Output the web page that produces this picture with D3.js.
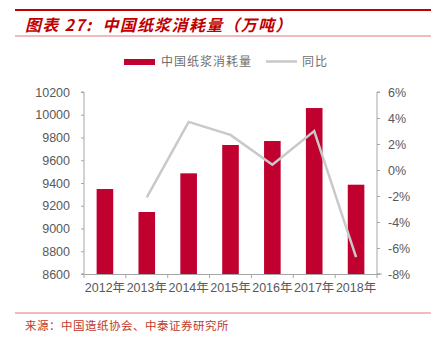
<!DOCTYPE html>
<html><head><meta charset="utf-8">
<script src="https://cdnjs.cloudflare.com/ajax/libs/d3/7.8.5/d3.min.js"></script>
<style>
body{margin:0;background:#fff;}
svg{display:block;font-family:"Liberation Sans",Arial,"Noto Sans CJK SC",sans-serif;}
</style></head><body>
<svg id="c" width="433" height="347"></svg>
<script>
const years = ["2012年","2013年","2014年","2015年","2016年","2017年","2018年"];
const consumption = [9347, 9145, 9485, 9734, 9769, 10059, 9385];
const yoy = [null, -2.1, 3.7, 2.7, 0.4, 3.0, -6.7];
const leftTicks = [8600, 8800, 9000, 9200, 9400, 9600, 9800, 10000, 10200];
const rightTicks = [-8, -6, -4, -2, 0, 2, 4, 6];
const titleText = "图表 27:  中国纸浆消耗量（万吨）";
const sourceText = "来源：中国造纸协会、中泰证券研究所";
const legendNames = ["中国纸浆消耗量", "同比"];

const svg = d3.select("#c");
const barColor = "#c0002f", lineColor = "#c9c9c9", axisColor = "#a6a6a6", textColor = "#595959";
const L = 84, R = 377, T = 92, B = 274;

// header
svg.append("rect").attr("x",15).attr("y",9).attr("width",416).attr("height",2).attr("fill","#c00000");
svg.append("text").attr("x",25).attr("y",31).text(titleText)
  .attr("fill","#c00000").attr("font-size",16).attr("font-weight","bold").attr("font-style","italic")
  .attr("letter-spacing",1.3).attr("xml:space","preserve").style("white-space","pre")
  .attr("font-family","'Noto Sans CJK SC',sans-serif");
svg.append("rect").attr("x",15).attr("y",35.5).attr("width",416).attr("height",1).attr("fill","#e07a7a");

// legend
svg.append("rect").attr("x",124).attr("y",59).attr("width",31).attr("height",6).attr("fill",barColor);
svg.append("text").attr("x",161).attr("y",66).text(legendNames[0]).attr("fill","#6e6e6e")
  .attr("font-size",12).attr("letter-spacing",1).attr("font-family","'Noto Sans CJK SC',sans-serif");
svg.append("line").attr("x1",266).attr("x2",297).attr("y1",61.5).attr("y2",61.5).attr("stroke",lineColor).attr("stroke-width",2.5);
svg.append("text").attr("x",302).attr("y",66).text(legendNames[1]).attr("fill","#6e6e6e")
  .attr("font-size",12).attr("letter-spacing",1).attr("font-family","'Noto Sans CJK SC',sans-serif");

const xb = d3.scaleBand().domain(years).range([L,R]);
const y = d3.scaleLinear().domain([8600,10200]).range([B,T]);
const y2 = d3.scaleLinear().domain([-8,6]).range([B,T]);

// bars
svg.append("g").selectAll("rect").data(consumption).join("rect")
  .attr("x",(d,i)=>xb(years[i])+xb.bandwidth()/2-8.3)
  .attr("width",16.6)
  .attr("y",d=>y(d)).attr("height",d=>B-y(d)).attr("fill",barColor);

// line
const pts = yoy.map((v,i)=>({x:xb(years[i])+xb.bandwidth()/2, v})).filter(p=>p.v!==null);
svg.append("path").datum(pts)
  .attr("d",d3.line().x(p=>p.x).y(p=>y2(p.v)))
  .attr("fill","none").attr("stroke",lineColor).attr("stroke-width",2.5);

// left axis
const gl = svg.append("g").attr("transform",`translate(${L},0)`)
  .call(d3.axisLeft(y).tickValues(leftTicks).tickSize(3).tickPadding(11).tickFormat(d3.format("d")));
// right axis
const gr = svg.append("g").attr("transform",`translate(${R},0)`)
  .call(d3.axisRight(y2).tickValues(rightTicks).tickSize(3).tickPadding(8).tickFormat(d=>d+"%"));
// bottom axis
const gb = svg.append("g").attr("transform",`translate(0,${B})`)
  .call(d3.axisBottom(xb).tickSize(0).tickPadding(9));
gb.append("g").selectAll("line").data(d3.range(years.length+1)).join("line")
  .attr("x1",i=>L+i*xb.step()).attr("x2",i=>L+i*xb.step()).attr("y1",0).attr("y2",4)
  .attr("stroke",axisColor);
gb.append("line").attr("x1",R).attr("x2",R+5).attr("stroke",axisColor);
gb.append("line").attr("x1",L-2).attr("x2",L).attr("stroke",axisColor);

[gl,gr,gb].forEach(g=>{
  g.selectAll(".domain").attr("stroke",axisColor).attr("stroke-width",1);
  g.selectAll(".tick line").attr("stroke",axisColor);
  g.selectAll("text").attr("fill",textColor).attr("font-size",12.5)
    .attr("font-family","'Liberation Sans',Arial,'Noto Sans CJK SC',sans-serif");
});
gl.select(".domain").attr("d",`M-3,${T}H0V${B}H-3`);
gr.select(".domain").attr("d",`M3,${T}H0V${B}H3`);
gb.selectAll("text").attr("dy","0.71em");

// footer
svg.append("rect").attr("x",15).attr("y",312.5).attr("width",416).attr("height",1).attr("fill","#e07a7a");
svg.append("text").attr("x",25).attr("y",330).text(sourceText).attr("fill","#c0392b")
  .attr("font-size",11.5).attr("letter-spacing",0.5).attr("font-family","'Noto Sans CJK SC',sans-serif");
</script></body></html>
